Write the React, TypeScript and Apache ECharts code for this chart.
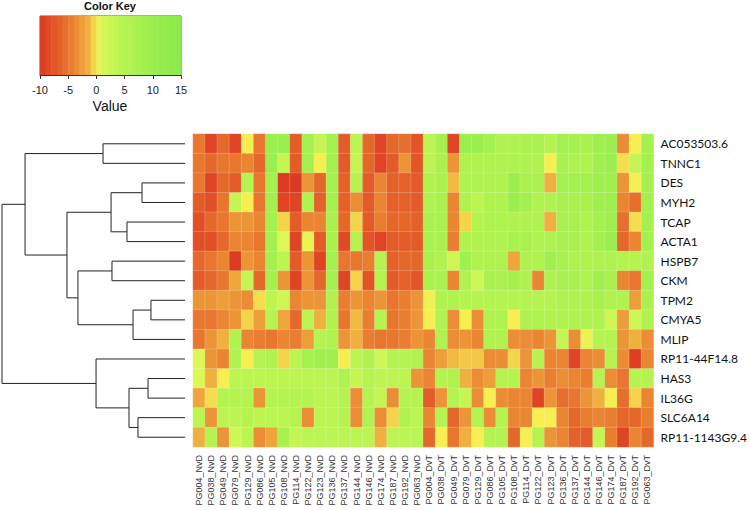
import React, { useEffect, useRef } from 'react';
import * as echarts from 'echarts';

const genes = ['AC053503.6', 'TNNC1', 'DES', 'MYH2', 'TCAP', 'ACTA1', 'HSPB7', 'CKM', 'TPM2', 'CMYA5', 'MLIP', 'RP11-44F14.8', 'HAS3', 'IL36G', 'SLC6A14', 'RP11-1143G9.4'];

const samples = [
  'PG004_NvD', 'PG038_NvD', 'PG049_NvD', 'PG079_NvD', 'PG129_NvD', 'PG086_NvD', 'PG105_NvD', 'PG108_NvD', 'PG114_NvD', 'PG122_NvD',
  'PG123_NvD', 'PG136_NvD', 'PG137_NvD', 'PG144_NvD', 'PG146_NvD', 'PG174_NvD', 'PG187_NvD', 'PG192_NvD', 'PG063_NvD',
  'PG004_DvT', 'PG038_DvT', 'PG049_DvT', 'PG079_DvT', 'PG129_DvT', 'PG086_DvT', 'PG105_DvT', 'PG108_DvT', 'PG114_DvT', 'PG122_DvT',
  'PG123_DvT', 'PG136_DvT', 'PG137_DvT', 'PG144_DvT', 'PG146_DvT', 'PG174_DvT', 'PG187_DvT', 'PG192_DvT', 'PG063_DvT',
];

const vAC053503_6 = [-5, -9, -6, -9, 0, -5, 10, 10, -7, 8, 3, 8, -7, 4, -6, -9, -6, -5.5, -7.5, 4, 8, -9, 10, 10, 8, 6, 6, 7, 7, 5, 8, 8, 7, 9, 10, -3.5, 0, 8];
const vTNNC1 = [-5, -6, -5, -5, -4, -6, 10, 3, -7, 8, 0, 8, -7, 3, -6, -9, -7, -3, -7.5, 4, 7, -3, 6, 6, 6, 6, 6, 6, 6, 0, 7, 6, 6, 9, 10, -0.3, 3, 8];
const vDES = [-5, -9, -6, -7, 5, -5, 8, -10, -10, -3, -6, 8, -6.5, 5, -7, -4, -6.5, -6.5, -7, 6, 7, -1, 6, 6, 6, 6, 10, 7, 7, -1.5, 8, 8, 8, 9, 9, -3, 0.2, 8];
const vMYH2 = [-7, -8, -5, 3, 0, -5, 8, -9, -9, 6, -6.5, 8, -6.5, -3.5, -7, -4, -6.5, -6.5, -7, 6, 7, -4, 6, 4, 6, 6, 10, 8, 6, 6, 7, 7, 7, 9, 9, -4, -5.5, 8];
const vTCAP = [-8, -6, -5, -3, -3, -4, 8, -0.5, -7, -4, -4, 7, -6, -0.5, -7, -4.5, -6, -6, -6.5, 7, 7, -4, -0.5, 5, 6, 6, 6, 6, 6, -1.5, 7, 7, 6, 8, 9, -5.5, -0.3, 8];
const vACTA1 = [-8, -8, -6, -4, -4, -5, 8, 1, -9, 0.5, -7, 7, -8.5, 5, -7.5, -9, -7, -7, -7, 7, 7, -4.5, 6, 6, 6, 6, 7, 7, 6, 6, 7, 7, 6, 8, 10, -6, -4, 8];
const vHSPB7 = [-6, -5, -4, -10, -3, -4, 8, 4, -7, -3, -9, 8, -5, -5, -4.5, 5, -6.5, -6, -6, 7, 6, 2, 9, 6, 6, 6, -2, 6, 6, 9, 7, 6, 6, 6, 6, 5, 5, 6];
const vCKM = [-7, -6, -5, -2, 3, -6, 8, -3, -9, -3, -6, 8, -9, -0.5, -7.5, 5, -7, -6.5, -7.5, 7, 7, -4, 6, 2, 7, 7, 8, 6, -4, 6, 7, 7, 6, 9, 7, -4, -5, 8];
const vTPM2 = [-3, -3, -2.5, -3, -3.5, -0.3, 4, 2, -4, -3, -3, 6, -4.5, -3, -4, -3, -5, -4.5, -3, 0.3, 6, 6, 5, 5, 5, 5, 5, 5, 5, 5, 6, 6, 6, 7, 6, 6, -2.5, 7];
const vCMYA5 = [-5, -5, -4, -3, -0.5, -2.5, 5, -2, -6, 4, -1.5, 6, -5, -1, -4.5, 5, -5, -4.5, -3, 0, 6, -3.5, 0, -3.5, 6, 6, 0, 6, 6, 6, 6, 6, 6, 6, 2, -2.5, 2, 6];
const vMLIP = [-5, -3, -1.5, 6, -4, -4.5, -5, -4, -4.5, -2.5, 5, 6, -3, -1.5, -4.5, -5, -5, -4.5, -3, -4, 6, -3.5, -3, -4, 6, 6, -3.5, -3.5, -4, -3, 3, -3.5, 0.5, 5, 5, -3, -1.5, -3.5];
const vRP11_44F14_8 = [1, -3, -4, 6, 0, 5, 6, -0.5, 4, 8, 9, 9, 0, 4, 6, 2, 5, 5, 6, -4, -2.5, -1, -0.7, -0.7, -3.5, -3.5, -0.5, -3, 5, -4, -4, -9, -4, -3.5, 5, -3.5, -9.5, -4];
const vHAS3 = [1, -1.5, 0, 4, 4, 4, 4, 4, 4, 4, 4, 4, 6, 3, 5, 4, 4, 4, -3, -4, 5, 6, -1.5, -3.5, -2.5, 5, 5, -4, -3, -4.5, -3.5, -4, -4.5, 5, -3.5, -5, 5, 5];
const vIL36G = [-2, -0.3, 5, 5, 5, -3, 5, 5, 5, 5, 4, 4, 5, -3.5, 5, 3, -3.5, 5, 5, -7, -3, 5, 3, -3.5, 0, -3.5, -4, -4, -9, -3, -5.5, -5, -3, -1.5, 0, -5.5, -0.5, -4];
const vSLC6A14 = [4, -3, 4, 4, 5, 4, 4, 4, 5, -3.5, 4, 4, 5, -3.5, 6, -3.5, -0.5, 6, 4, -4, 5, -6, -3, 5, -3.5, 5, -4, -4, 0, 0, -4, -6, -4.5, -4, -4.5, -6, -6, -4.5];
const vRP11_1143G9_4 = [-1.5, 5, -3, 2, 4, -3.5, -2, 7, 3, 4, 4, 4, 4, 4, 4, -1.5, 4, 4, 4, -6, 0, -5, -1.5, 0, 5, 5, -6, 0, 5, -3, -4, -6.5, -7, 3, -4.5, -9, -4, -6];

const geneRows = [vAC053503_6, vTNNC1, vDES, vMYH2, vTCAP, vACTA1, vHSPB7, vCKM, vTPM2, vCMYA5, vMLIP, vRP11_44F14_8, vHAS3, vIL36G, vSLC6A14, vRP11_1143G9_4];

// hierarchical clustering merges: [left, right, height]; negative = leaf row (-(row+1)), positive = earlier merge (1-based)
const dendroMerges: [number, number, number][] = [
  [-9, -10, 18.6],
  [-13, -14, 20.2],
  [-3, -4, 23.5],
  [-15, -16, 25.7],
  [1, -11, 28.4],
  [2, 4, 30.6],
  [-5, -6, 31.7],
  [-7, -8, 39.9],
  [3, 7, 40.4],
  [-1, -2, 44.8],
  [-12, 6, 48.6],
  [8, 5, 58.5],
  [9, 12, 64.5],
  [10, 13, 87.4],
  [14, 11, 100],
];

const keyBreaks = [-10, -9, -8, -7, -6, -5, -4, -3, -2, -1, 0, 1, 2, 3, 4, 5, 6, 7, 8, 9, 10, 11, 12, 13, 14, 15];
const keyTicks = [-10, -5, 0, 5, 10, 15];

const palette = [
  '#dc3a22', '#df4424', '#e14f26', '#e35b28', '#e5682b', '#e8762e', '#ea8532', '#ec9536', '#eea63b', '#f0b942',
  '#f7ee52', '#dcf756', '#cef655', '#c4f553', '#bcf452', '#b5f351', '#b0f250', '#aaf14f', '#a4f04e', '#9fef4e',
  '#9aee4d', '#96ed4d', '#93ec4c', '#90eb4c', '#8eea4c', '#8ce94c',
];

export default function App() {
  const ref = useRef<HTMLDivElement>(null);
  useEffect(() => {
    if (!ref.current) return;
    const chart = echarts.init(ref.current, undefined, { renderer: 'svg' });

    const heatData: number[][] = [];
    geneRows.forEach((row, j) => row.forEach((v, i) => heatData.push([i, j, v])));

    const keyData = keyBreaks.slice(0, -1).map((b, i) => [b, keyBreaks[i + 1], (b + keyBreaks[i + 1]) / 2]);

    const mpos: { h: number; y: number }[] = [];
    const node = (r: number) => (r < 0 ? { h: 0, y: -r - 1 } : mpos[r - 1]);
    const dendroData = dendroMerges.map(([a, b, h]) => {
      const pa = node(a);
      const pb = node(b);
      mpos.push({ h, y: (pa.y + pb.y) / 2 });
      return [h, pa.y, pb.y, pa.h, pb.h];
    });

    const option: any = {
      animation: false,
      backgroundColor: '#ffffff',
      grid: [
        { left: 193, top: 134, width: 465, height: 313 },
        { left: 40, top: 16, width: 141, height: 59, show: true, borderColor: '#555', borderWidth: 1, backgroundColor: 'transparent' },
        { left: 2, top: 134, width: 183, height: 313 },
      ],
      xAxis: [
        {
          type: 'category', gridIndex: 0, data: samples,
          axisLine: { show: false }, axisTick: { show: false }, splitLine: { show: false },
          axisLabel: { rotate: 90, interval: 0, fontSize: 9, fontFamily: 'Liberation Sans', color: '#333', margin: 8 },
        },
        {
          type: 'value', gridIndex: 1, min: -10, max: 15, interval: 5,
          axisLine: { show: true, lineStyle: { color: '#333' } },
          axisTick: { show: true, length: 4, lineStyle: { color: '#333' } },
          axisLabel: { fontSize: 11, fontFamily: 'Liberation Sans', color: '#222', margin: 9, customValues: keyTicks },
          splitLine: { show: false },
        },
        { type: 'value', gridIndex: 2, min: 0, max: 100, inverse: true, show: false },
      ],
      yAxis: [
        {
          type: 'category', gridIndex: 0, data: genes, inverse: true, position: 'right',
          axisLine: { show: false }, axisTick: { show: false }, splitLine: { show: false },
          axisLabel: { fontSize: 12, fontFamily: 'Lato', color: '#111', margin: 7 },
        },
        { type: 'value', gridIndex: 1, min: 0, max: 1, show: false },
        { type: 'value', gridIndex: 2, min: -0.5, max: 15.5, inverse: true, show: false },
      ],
      visualMap: {
        type: 'continuous', show: false, min: -10, max: 15, dimension: 2, seriesIndex: [0, 1],
        inRange: { color: palette },
      },
      series: [
        {
          type: 'heatmap', xAxisIndex: 0, yAxisIndex: 0, data: heatData,
          itemStyle: { borderColor: 'rgba(255,255,255,0.35)', borderWidth: 0.5 },
          emphasis: { disabled: true },
        },
        {
          type: 'custom', xAxisIndex: 1, yAxisIndex: 1, data: keyData, silent: true,
          encode: { x: [0, 1], y: 2 },
          renderItem: (params: any, api: any) => {
            const p0 = api.coord([api.value(0), 1]);
            const p1 = api.coord([api.value(1), 0]);
            return {
              type: 'rect',
              shape: { x: p0[0], y: p0[1], width: p1[0] - p0[0] + 0.4, height: p1[1] - p0[1] },
              style: { fill: api.visual('color') },
            };
          },
        },
        {
          type: 'custom', xAxisIndex: 2, yAxisIndex: 2, data: dendroData, silent: true, clip: false,
          encode: { x: 0, y: 1 },
          renderItem: (params: any, api: any) => {
            const h = api.value(0), y1 = api.value(1), y2 = api.value(2), h1 = api.value(3), h2 = api.value(4);
            const pts = [api.coord([h1, y1]), api.coord([h, y1]), api.coord([h, y2]), api.coord([h2, y2])];
            return {
              type: 'polyline',
              shape: { points: pts },
              style: { stroke: '#222', lineWidth: 1, fill: null },
            };
          },
        },
      ],
      graphic: [
        {
          type: 'text', x: 110, y: 6,
          style: { text: 'Color Key', x: 0, y: 0, align: 'center', verticalAlign: 'middle', textAlign: 'center', textVerticalAlign: 'middle', font: 'bold 11px "Liberation Sans", Arial, sans-serif', fill: '#111' },
        },
        {
          type: 'text', x: 110, y: 106,
          style: { text: 'Value', x: 0, y: 0, align: 'center', verticalAlign: 'middle', textAlign: 'center', textVerticalAlign: 'middle', font: '14px "Liberation Sans", Arial, sans-serif', fill: '#111' },
        },
      ],
    };
    chart.setOption(option);
    return () => chart.dispose();
  }, []);

  return <div ref={ref} style={{ position: 'fixed', left: 0, top: 0, width: 750, height: 510 }} />;
}
